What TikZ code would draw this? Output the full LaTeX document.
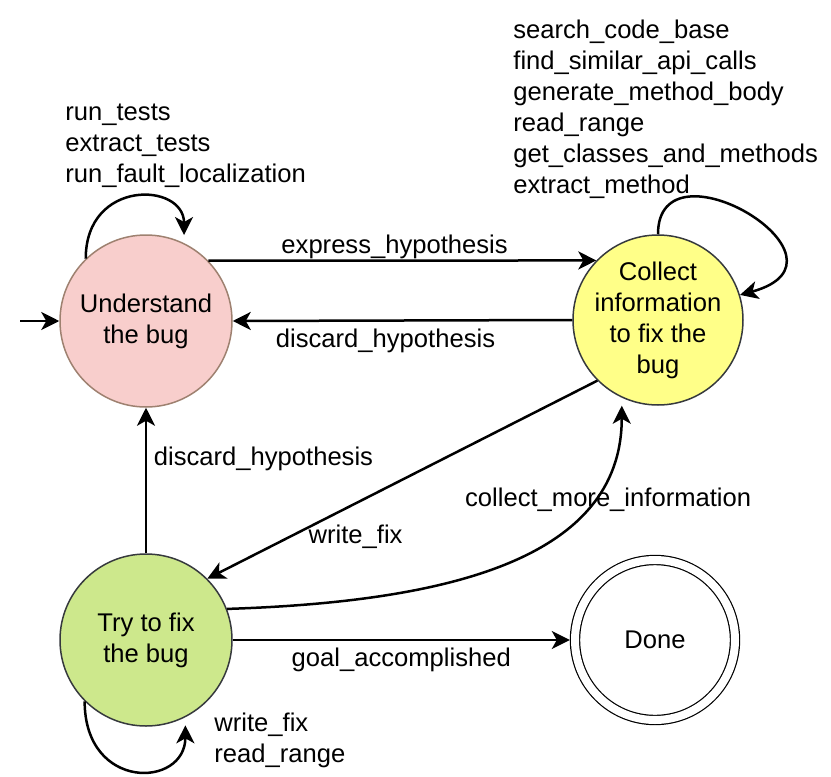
\documentclass[tikz,border=0pt]{standalone}
\usepackage{fontspec}
\setmainfont{Liberation Sans}
\usetikzlibrary{arrows.meta,positioning}
\definecolor{undfill}{HTML}{F8CECC}
\definecolor{undline}{HTML}{9E8170}
\definecolor{colfill}{HTML}{FFFF88}
\definecolor{tryfill}{HTML}{CDE88C}
\definecolor{linegrey}{HTML}{36393D}

\begin{document}
\begin{tikzpicture}[x=0.5pt,y=-0.5pt,
    every node/.style={font=\fontsize{12.8}{15.5}\selectfont},
    bubble/.style={circle,draw=linegrey,line width=0.75pt,minimum size=86pt,inner sep=-2pt,align=center},
    tools/.style={align=left,anchor=west,inner sep=0pt},
    edge/.style={line width=1.25pt,-{Stealth[length=9pt,width=9pt,inset=2.5pt]}}]
    \useasboundingbox (0,0) rectangle (831,777);
    \node[bubble,fill=undfill,draw=undline] (und) at (146,321) {Understand\\the bug};
    \node[bubble,fill=colfill,minimum size=85pt] (col) at (658,320) {Collect\\information\\to fix the\\bug};
    \node[bubble,fill=tryfill] (try) at (146,640) {Try to fix\\the bug};
    \node[circle,draw,line width=0.6pt,double,double distance=4pt,minimum size=80pt,outer sep=2.6pt] (done) at (655,640) {Done};
    \coordinate (start) at (20,321);

    \node[tools] (undtools) at (65,146) {run\_tests\\extract\_tests\\run\_fault\_localization};
    \node[tools] (coltools) at (513,109) {search\_code\_base\\find\_similar\_api\_calls\\generate\_method\_body\\read\_range\\get\_classes\_and\_methods\\extract\_method};
    \node[tools] (trytools) at (214,740) {write\_fix\\read\_range};

    \draw[edge] (start) -- (und);
    \draw[edge] (und.44) -- node[above=-3pt,pos=0.48] {express\_hypothesis} (col.136);
    \draw[edge] (col.west) -- node[below,pos=0.55] {discard\_hypothesis} (und.east);
    \draw[edge] (try) -- node[right,pos=0.65] {discard\_hypothesis} (und);
    \draw[edge] (col.225) -- node[below=7pt,pos=0.62] {write\_fix} (try.45);
    \draw[edge,shorten >=4pt] (try.21) .. controls +(217,-7) and +(0,163) .. node[pos=0.74,xshift=10pt,yshift=1pt] {collect\_more\_information} (col.-115);
    \draw[edge] (try) -- node[below] {goal\_accomplished} (done);

    \draw[edge,shorten >=4pt] (und.134) .. controls +(0,-80) and +(0,-61) .. (und.64);
    \draw[edge] (col.90) .. controls +(0,-100) and +(128,-35) .. (col.17);
    \draw[edge,shorten >=4pt] (try.225) .. controls +(0,90) and +(0,71) .. (try.-63);
\end{tikzpicture}
\end{document}
